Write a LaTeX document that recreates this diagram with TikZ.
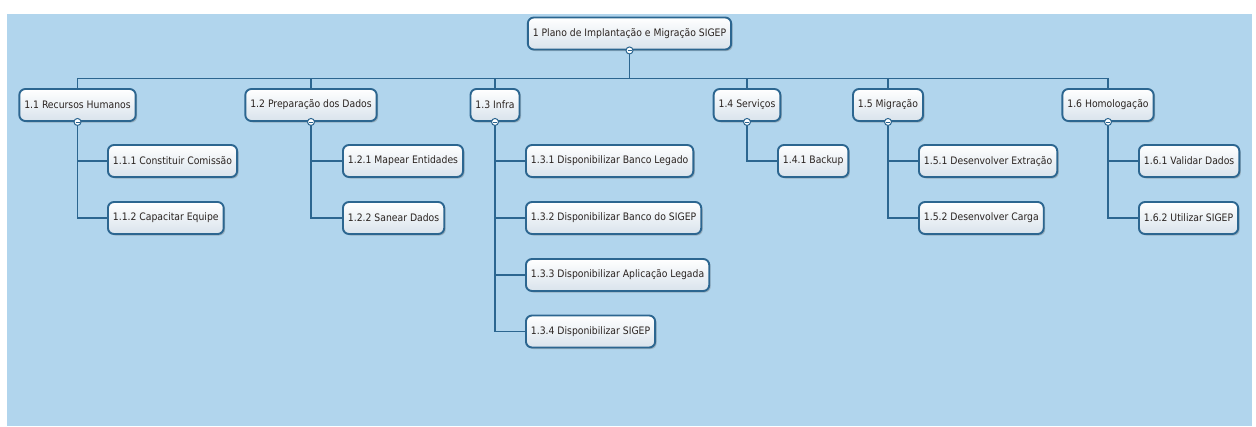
\documentclass[tikz,border=0pt]{standalone}
\usepackage{fontspec}
\newfontfamily\wbsfont{DejaVu Sans Condensed}
\usetikzlibrary{shadows}
\definecolor{bg}{HTML}{B1D5ED}
\definecolor{edge}{HTML}{2C6690}
\definecolor{boxbot}{HTML}{D9E3EC}
\definecolor{txt}{HTML}{2A2320}
\begin{document}
\begin{tikzpicture}[x=1pt,y=-1pt,
  wbs/.style={draw=edge, line width=1.9pt, rounded corners=6pt, top color=white, bottom color=boxbot,
    minimum height=32pt, inner xsep=5pt, font=\wbsfont\fontsize{10.3}{12}\selectfont, text=txt,
    drop shadow={shadow xshift=1.5pt, shadow yshift=-1.5pt, opacity=0.35, fill=black!60}},
  leaf/.style={wbs, anchor=west},
  conn/.style={draw=edge, line width=1.9pt},
  knob/.style={circle, draw=edge, fill=white, line width=1pt, inner sep=0pt, minimum size=7pt,
    path picture={\draw[edge, line width=0.7pt] ([xshift=-2pt]path picture bounding box.center) -- ([xshift=2pt]path picture bounding box.center);}}]
\useasboundingbox (0,0) rectangle (1256,426);
\fill[white] (0,0) rectangle (1256,426);
\fill[bg] (7,14) rectangle (1252,426);

% nodes
\node[wbs] (root) at (629.5,33.5) {1 Plano de Implantação e Migração SIGEP};
\node[wbs] (n1) at (77.5,105) {1.1 Recursos Humanos};
\node[wbs] (n2) at (311,105) {1.2 Preparação dos Dados};
\node[wbs] (n3) at (495,105) {1.3 Infra};
\node[wbs] (n4) at (747,105) {1.4 Serviços};
\node[wbs] (n5) at (888,105) {1.5 Migração};
\node[wbs] (n6) at (1108,105) {1.6 Homologação};

\node[leaf] (n11) at (107,161) {1.1.1 Constituir Comissão};
\node[leaf] (n12) at (107,218) {1.1.2 Capacitar Equipe};
\node[leaf] (n21) at (342,161) {1.2.1 Mapear Entidades};
\node[leaf] (n22) at (342,218) {1.2.2 Sanear Dados};
\node[leaf] (n31) at (525,161) {1.3.1 Disponibilizar Banco Legado};
\node[leaf] (n32) at (525,218) {1.3.2 Disponibilizar Banco do SIGEP};
\node[leaf] (n33) at (525,275) {1.3.3 Disponibilizar Aplicação Legada};
\node[leaf] (n34) at (525,331.5) {1.3.4 Disponibilizar SIGEP};
\node[leaf] (n41) at (777,161) {1.4.1 Backup};
\node[leaf] (n51) at (918,161) {1.5.1 Desenvolver Extração};
\node[leaf] (n52) at (918,218) {1.5.2 Desenvolver Carga};
\node[leaf] (n61) at (1138,161) {1.6.1 Validar Dados};
\node[leaf] (n62) at (1138,218) {1.6.2 Utilizar SIGEP};

% connectors
\foreach \n in {n1,n2,n3,n4,n5,n6}
  \draw[conn] (root.south) -- ++(0,28) -| (\n.north);
\foreach \p/\c in {n1/n11,n1/n12,n2/n21,n2/n22,n3/n31,n3/n32,n3/n33,n3/n34,n4/n41,n5/n51,n5/n52,n6/n61,n6/n62}
  \draw[conn] (\p.south) |- (\c.west);

% knobs
\foreach \n in {root,n1,n2,n3,n4,n5,n6}
  \node[knob] at (\n.south) {};
\end{tikzpicture}
\end{document}
